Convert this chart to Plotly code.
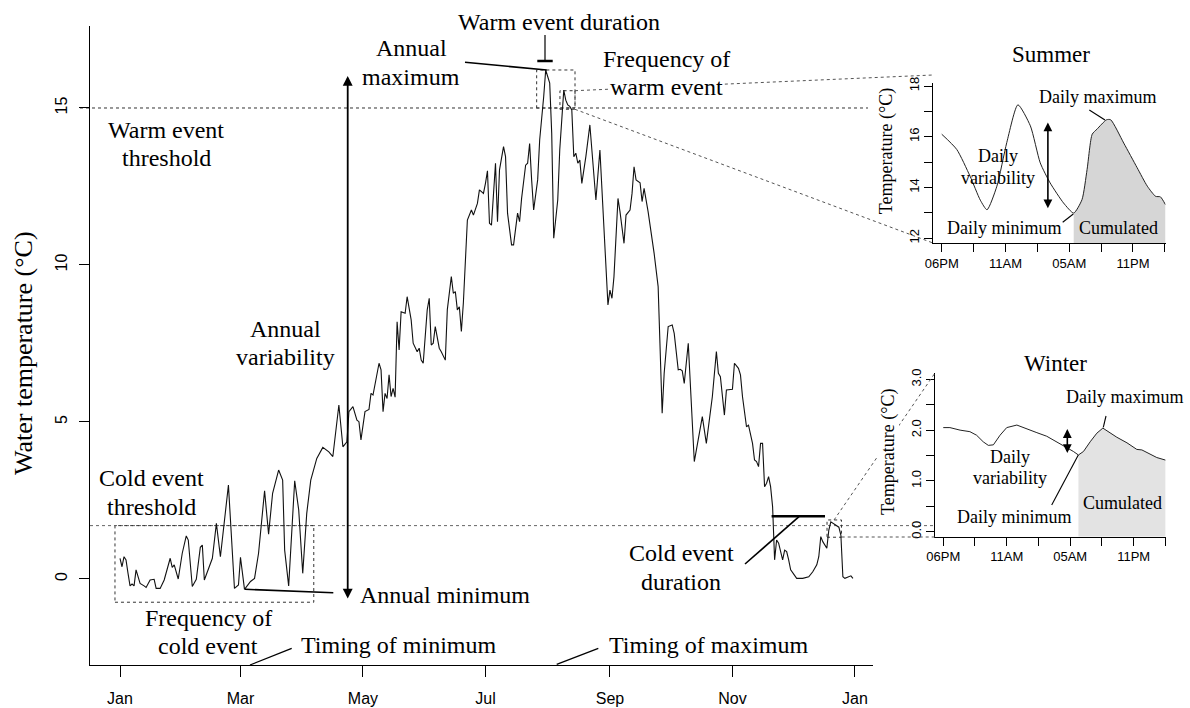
import pandas as pd
import plotly.graph_objects as go

W, H = 1190, 708
SERIF = "Liberation Serif"
SANS = "Liberation Sans"

# ---------------- daily water temperature (day 0 = 1 January) ----------------
day = [
    0, 1, 2, 3, 4, 5, 6, 7, 8, 10,
    12, 13, 15, 17, 18, 20, 22, 25, 26, 27,
    29, 31, 33, 34, 36, 38, 40, 41, 42, 44,
    46, 48, 50, 54, 57, 59, 60, 62, 65, 67,
    69, 72, 74, 76, 79, 81, 82, 84, 87, 89,
    91, 93, 95, 98, 101, 104, 106, 109, 111, 113,
    114, 116, 118, 119, 120, 122, 124, 125, 126, 129,
    130, 131, 132, 133, 134, 135, 136, 137, 138, 139,
    140, 142, 143, 145, 146, 148, 149, 150, 151, 153,
    154, 155, 156, 157, 159, 160, 162, 163, 165, 166,
    167, 168, 169, 170, 171, 173, 175, 176, 178, 179,
    181, 182, 183, 184, 185, 187, 188, 189, 191, 192,
    193, 195, 196, 198, 199, 200, 202, 203, 204, 205,
    206, 208, 209, 211, 212, 214, 215, 216, 218, 219,
    221, 222, 223, 224, 225, 226, 227, 228, 229, 230,
    232, 234, 235, 237, 239, 243, 244, 245, 246, 248,
    249, 251, 252, 254, 255, 256, 257, 259, 260, 261,
    263, 265, 266, 268, 269, 270, 271, 273, 275, 276,
    278, 279, 280, 281, 283, 286, 290, 292, 295, 297,
    298, 299, 301, 302, 305, 306, 308, 309, 310, 312,
    313, 315, 316, 317, 318, 319, 320, 321, 322, 323,
    324, 325, 326, 327, 328, 329, 330, 331, 332, 333,
    334, 337, 340, 343, 345, 347, 348, 349, 350, 352,
    353, 354, 355, 356, 357, 358, 359, 360, 361, 363,
    364, 365,
]
temp = [
    0.66, 0.39, 0.71, 0.61, 0.18, -0.22, -0.16, -0.22, 0.29, -0.14,
    -0.22, -0.27, -0.03, -0.01, -0.30, -0.30, -0.03, 0.66, 0.37, 0.45,
    0.00, 0.82, 1.37, 1.24, -0.24, -0.01, 1.01, 1.08, -0.03, 0.29,
    0.66, 1.77, 0.71, 2.99, -0.30, -0.19, 0.69, -0.33, -0.08, 0.02,
    0.82, 2.81, 1.43, 2.73, 3.47, 3.15, 0.92, -0.22, 3.13, 2.20,
    0.18, 2.09, 3.15, 3.84, 4.19, 4.05, 3.90, 5.54, 4.21, 4.37,
    5.33, 5.49, 5.06, 5.01, 4.43, 5.33, 5.40, 5.91, 5.86, 6.87,
    6.66, 5.33, 5.91, 5.75, 6.50, 5.81, 6.07, 5.79, 8.19, 7.29,
    8.51, 8.46, 8.99, 8.25, 7.51, 7.24, 7.35, 6.97, 6.87, 8.57,
    8.94, 7.45, 7.51, 8.04, 7.35, 7.24, 6.97, 8.57, 9.63, 9.10,
    9.15, 8.57, 8.67, 7.88, 8.80, 11.43, 11.75, 11.59, 11.96, 12.39,
    12.28, 12.60, 13.00, 11.33, 11.27, 13.24, 11.38, 13.03, 13.77, 13.45,
    11.65, 10.64, 10.64, 11.65, 11.38, 12.12, 13.18, 13.24, 13.87, 12.71,
    11.75, 12.71, 13.98, 15.36, 16.21, 15.79, 14.19, 10.85, 12.07, 13.66,
    15.57, 15.25, 15.10, 15.05, 14.94, 13.45, 13.56, 13.24, 13.34, 12.60,
    13.45, 14.46, 13.56, 12.07, 13.66, 8.73, 9.20, 8.94, 9.63, 12.12,
    11.70, 10.69, 11.59, 11.75, 12.28, 13.13, 12.71, 12.62, 12.02, 12.44,
    11.70, 10.90, 10.37, 9.31, 7.40, 5.28, 6.55, 8.04, 8.09, 7.82,
    6.66, 6.68, 6.63, 6.23, 7.51, 3.74, 5.17, 4.32, 5.81, 7.24,
    6.55, 6.44, 5.22, 6.02, 6.04, 6.87, 6.71, 6.50, 5.81, 4.85,
    4.90, 4.32, 3.79, 3.74, 3.58, 4.32, 4.32, 2.94, 3.05, 3.26,
    2.94, 2.30, 0.61, 1.24, 1.14, 0.82, 0.61, 0.92, 0.87, 0.61,
    0.29, 0.02, 0.02, 0.07, 0.23, 0.45, 0.71, 1.35, 1.19, 0.98,
    1.56, 1.82, 1.77, 1.72, 1.67, 1.65, 1.40, 0.07, 0.02, 0.07,
    0.10, 0.02,
]

warm_threshold = 15.0
cold_threshold = 1.7

month_ticks = ["2016-01-01", "2016-03-01", "2016-05-01", "2016-07-01",
               "2016-09-01", "2016-11-01", "2017-01-01"]
month_labels = ["Jan", "Mar", "May", "Jul", "Sep", "Nov", "Jan"]
temp_ticks = [0, 5, 10, 15]

# ---------------- hourly detail for one summer and one winter day pair ----------------
summer_t = [0.00, 0.47, 0.89, 1.21, 1.42, 1.73, 2.04, 2.39, 2.78, 3.09,
            3.40, 3.82, 4.14, 4.40, 4.56, 4.72, 4.87, 5.17, 5.30, 5.71,
            6.13, 6.45, 6.71, 6.86, 7.02]
summer_temp = [16.10, 15.50, 14.44, 13.50, 13.12, 14.05, 15.77, 17.26, 16.43, 14.97,
               14.18, 13.39, 12.99, 13.52, 14.71, 16.10, 16.30, 16.67, 16.67, 15.75,
               14.78, 14.05, 13.65, 13.63, 13.32]

winter_t = [0.00, 0.21, 0.53, 0.84, 1.05, 1.26, 1.42, 1.58, 1.79, 2.00,
            2.32, 2.63, 2.95, 3.26, 3.58, 3.89, 4.10, 4.26, 4.42, 4.63,
            4.84, 5.03, 5.20, 5.47, 5.79, 6.10, 6.26, 6.52, 6.73, 7.00]
winter_temp = [2.05, 2.05, 2.00, 1.97, 1.90, 1.77, 1.70, 1.71, 1.90, 2.05,
               2.10, 2.02, 1.95, 1.88, 1.77, 1.66, 1.58, 1.51, 1.58, 1.77,
               1.94, 2.04, 1.97, 1.86, 1.75, 1.62, 1.61, 1.53, 1.46, 1.41]

hour_ticks = [0, 1, 2, 3, 4, 5, 6, 7]
hour_labels = ["06PM", "", "11AM", "", "05AM", "", "11PM", ""]
summer_ticks = [12, 13, 14, 15, 16, 17, 18]
summer_tick_labels = ["12", "", "14", "", "16", "", "18"]
winter_ticks = [0.0, 0.5, 1.0, 1.5, 2.0, 2.5, 3.0]
winter_tick_labels = ["0.0", "", "1.0", "", "2.0", "", "3.0"]

# ---------------- helpers ----------------
base = pd.Timestamp("2016-01-01")


def D(d):
    return str(base + pd.Timedelta(days=d))


def px(x):
    return x / W


def py(y):
    return 1 - y / H


dates = [D(d) for d in day]
i_max = max(range(len(temp)), key=lambda i: temp[i])
i_min = min(range(len(temp)), key=lambda i: temp[i])
annual_max, annual_min = temp[i_max], temp[i_min]

fig = go.Figure()

# main series
fig.add_trace(go.Scatter(x=dates, y=temp, mode="lines",
                         line=dict(color="#111111", width=1.1),
                         xaxis="x", yaxis="y", hoverinfo="skip"))


def add_inset(t, v, xa, ya, y_floor, smooth, shade):
    # daily minimum within the first part of the window, then the following maximum
    early = [i for i in range(len(t)) if t[i] < 5]
    k_min = min(early, key=lambda i: v[i])
    k_max = max(range(k_min, len(t)), key=lambda i: v[i])
    fig.add_trace(go.Scatter(x=[t[k_min], t[-1]], y=[y_floor, y_floor], mode="lines",
                             line=dict(width=0, color=shade), xaxis=xa, yaxis=ya,
                             hoverinfo="skip"))
    fig.add_trace(go.Scatter(x=t[k_min:], y=v[k_min:], mode="lines", fill="tonexty",
                             fillcolor=shade,
                             line=dict(width=0, color=shade,
                                       shape="spline" if smooth else "linear",
                                       smoothing=0.6),
                             xaxis=xa, yaxis=ya, hoverinfo="skip"))
    fig.add_trace(go.Scatter(x=t, y=v, mode="lines",
                             line=dict(color="#222222", width=1,
                                       shape="spline" if smooth else "linear",
                                       smoothing=0.6),
                             xaxis=xa, yaxis=ya, hoverinfo="skip"))
    return k_min, k_max


s_min, s_max = add_inset(summer_t, summer_temp, "x2", "y2", 11.81, True, "#d6d6d6")
w_min, w_max = add_inset(winter_t, winter_temp, "x3", "y3", -0.10, False, "#e3e3e3")

shapes = []
annotations = []


def line_px(x0, y0, x1, y1, width=1.0, dash="solid", color="black"):
    shapes.append(dict(type="line", xref="paper", yref="paper",
                       x0=px(x0), y0=py(y0), x1=px(x1), y1=py(y1),
                       line=dict(color=color, width=width, dash=dash)))


def rect_data(d0, d1, t0, t1):
    shapes.append(dict(type="rect", xref="x", yref="y", x0=D(d0), x1=D(d1),
                       y0=t0, y1=t1, layer="below",
                       line=dict(color="#333333", width=1, dash="dot")))


def text(lines, x, y, size=24, gap=28.4, bg=None, angle=0, family=SERIF):
    n = len(lines)
    for i, s in enumerate(lines):
        yy = y + (i - (n - 1) / 2) * gap
        a = dict(x=px(x), y=py(yy), xref="paper", yref="paper", text=s,
                 showarrow=False, xanchor="center", yanchor="middle",
                 textangle=angle, font=dict(family=family, size=size, color="black"))
        if bg:
            a.update(bgcolor=bg, borderpad=0)
        annotations.append(a)


# thresholds
shapes.append(dict(type="line", xref="paper", yref="y", x0=px(80), x1=px(868),
                   y0=warm_threshold, y1=warm_threshold, layer="below",
                   line=dict(color="#333333", width=1, dash="dot")))
shapes.append(dict(type="line", xref="paper", yref="y", x0=px(90), x1=px(935),
                   y0=cold_threshold, y1=cold_threshold, layer="below",
                   line=dict(color="#666666", width=1, dash="dot")))

# event boxes
rect_data(-2.5, 96.5, -0.74, cold_threshold)
rect_data(207.5, 226.6, warm_threshold, annual_max)
rect_data(219.1, 226.6, 14.96, 15.55)
rect_data(352.1, 359.3, 1.33, 1.88)

# zoom connectors to the insets
line_px(575, 90.7, 933, 75, dash="dot", color="#555555")
line_px(575, 109.3, 933, 243, dash="dot", color="#555555")
line_px(834, 520, 935, 373, dash="dot", color="#555555")
line_px(841.7, 537, 935, 537, dash="dot", color="#555555")

# cold event duration bar
shapes.append(dict(type="line", xref="x", yref="y", x0=D(324.5), x1=D(351.1),
                   y0=2.0, y1=2.0, line=dict(color="black", width=2.5)))
line_px(745, 564, 799, 516.7, width=1.6)

# warm event duration marker
line_px(545, 35, 545, 60, width=1.2)
line_px(537.3, 61, 552.7, 61, width=2.5)

# annual max / min leaders
line_px(465, 62.3, 546.7, 70, width=1.6)
line_px(245, 589.3, 333.3, 592.7, width=1.6)

# timing leaders
line_px(250, 665, 291.7, 648.3, width=1.3)
line_px(556.7, 664.3, 598.3, 648.3, width=1.3)

# inset leaders
line_px(1089.3, 110, 1105, 120, width=1.1)
line_px(1062.7, 222.3, 1073.3, 214, width=1.1)
line_px(1106, 416, 1103.3, 427.3, width=1.1)
line_px(1051.7, 505, 1078.3, 455, width=1.1)

# double arrows
annotations.append(dict(x=D(113.4), y=16.02, ax=D(113.4), ay=-0.67, xref="x", yref="y",
                        axref="x", ayref="y", text="", showarrow=True, arrowhead=2,
                        arrowside="end+start", arrowsize=1.1, arrowwidth=1.8,
                        arrowcolor="black"))
annotations.append(dict(x=3.33, y=16.56, ax=3.33, ay=13.12, xref="x2", yref="y2",
                        axref="x2", ayref="y2", text="", showarrow=True, arrowhead=2,
                        arrowside="end+start", arrowsize=1.1, arrowwidth=1.6,
                        arrowcolor="black"))
annotations.append(dict(x=3.91, y=2.02, ax=3.91, ay=1.52, xref="x3", yref="y3",
                        axref="x3", ayref="y3", text="", showarrow=True, arrowhead=2,
                        arrowside="end+start", arrowsize=1.1, arrowwidth=1.6,
                        arrowcolor="black"))

# main labels
text(["Warm event duration"], 559, 21.7)
text(["Annual", "maximum"], 411, 62.5)
text(["Frequency of", "warm event"], 666.7, 72.8, bg="white")
text(["Warm event", "threshold"], 166, 144.2)
text(["Annual", "variability"], 285, 342.7)
text(["Cold event", "threshold"], 151, 492.5)
text(["Frequency of", "cold event"], 208, 631.7)
text(["Timing of minimum"], 398, 645)
text(["Timing of maximum"], 708.3, 645)
text(["Annual minimum"], 445, 595)
text(["Cold event", "duration"], 681, 567.5)
text(["Water temperature (°C)"], 24, 353, size=26, angle=-90)

# inset labels
text(["Summer"], 1051, 55, size=23)
text(["Daily maximum"], 1097.5, 96.7, size=18)
text(["Daily", "variability"], 998.3, 167, size=18, gap=21.5)
text(["Daily minimum"], 1004.3, 227.7, size=18)
text(["Cumulated"], 1118.3, 227.7, size=18)
text(["Temperature (°C)"], 886.5, 151.7, size=18, angle=-90, bg="white")

text(["Winter"], 1055.3, 363.3, size=23)
text(["Daily maximum"], 1124.2, 396.7, size=18)
text(["Daily", "variability"], 1010.3, 467.5, size=18, gap=21.6)
text(["Cumulated"], 1122.5, 502.7, size=18)
text(["Daily minimum"], 1014.7, 516.7, size=18)
text(["Temperature (°C)"], 888.3, 451.7, size=18, angle=-90, bg="white")

axis_common = dict(showline=True, linecolor="black", linewidth=1, ticks="outside",
                   tickcolor="black", tickwidth=1, showgrid=False, zeroline=False,
                   mirror=False, fixedrange=True, automargin=False)

fig.update_layout(
    width=W, height=H, margin=dict(l=0, r=0, t=0, b=0, autoexpand=False), autosize=False,
    paper_bgcolor="white", plot_bgcolor="rgba(0,0,0,0)", showlegend=False,
    xaxis=dict(axis_common, type="date", domain=[px(90), px(873)],
               range=[D(-14.94), D(375.0)], tickvals=month_ticks, ticktext=month_labels,
               ticklen=11, tickfont=dict(family=SANS, size=16, color="black"),
               ticklabelstandoff=8, anchor="y"),
    yaxis=dict(axis_common, domain=[py(665), py(26)], range=[-2.739, 17.611],
               tickvals=temp_ticks, ticklen=10, tickangle=-90,
               tickfont=dict(family=SANS, size=16, color="black"),
               ticklabelstandoff=6, anchor="x"),
    xaxis2=dict(axis_common, domain=[px(933.3), px(1165.5)], range=[-0.265, 7.02],
                tickvals=hour_ticks, ticktext=hour_labels, ticklen=8,
                tickfont=dict(family=SANS, size=13, color="black"), anchor="y2"),
    yaxis2=dict(axis_common, domain=[py(243), py(83)], range=[11.81, 18.12],
                tickvals=summer_ticks, ticktext=summer_tick_labels, ticklen=8,
                tickangle=-90, tickfont=dict(family=SANS, size=13, color="black"),
                anchor="x2"),
    xaxis3=dict(axis_common, domain=[px(935), px(1166)], range=[-0.26, 7.02],
                tickvals=hour_ticks, ticktext=hour_labels, ticklen=8,
                tickfont=dict(family=SANS, size=13, color="black"), anchor="y3"),
    yaxis3=dict(axis_common, domain=[py(536.7), py(373.3)], range=[-0.10, 3.12],
                tickvals=winter_ticks, ticktext=winter_tick_labels, ticklen=8,
                tickangle=-90, tickfont=dict(family=SANS, size=13, color="black"),
                anchor="x3"),
    shapes=shapes,
    annotations=annotations,
)

fig.write_html("out.html")
